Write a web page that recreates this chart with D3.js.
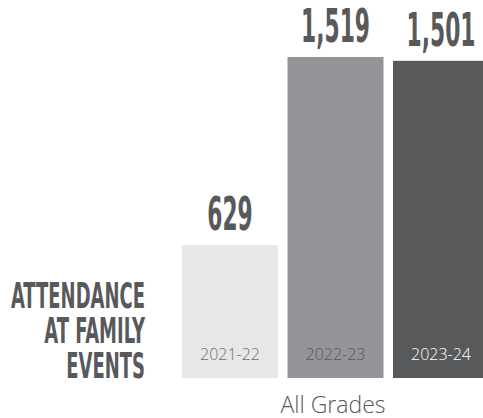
<html lang="en">
<head>
    <meta charset="UTF-8">
    <title>Attendance at Family Events</title>
    <script src="https://cdn.jsdelivr.net/npm/d3@7"></script>
    <style>
        body { margin: 0; background: #fff; }
    </style>
</head>
<body>
    <svg id="svg"></svg>

    <script>
        var WIDTH = 483;
        var HEIGHT = 418;

        // data
        var years = ["2021-22", "2022-23", "2023-24"];
        var attendance = [629, 1519, 1501];
        var titleLines = ["ATTENDANCE", "AT FAMILY", "EVENTS"];
        var groupLabel = "All Grades";

        var barColors = ["#e6e7e8", "#939598", "#58595b"];
        var yearColors = ["#6d6e71", "#58595b", "#ffffff"];
        var INK = "#58595b";
        var NARROW = "'DejaVu Sans Condensed', 'DejaVu Sans', sans-serif";
        var LIGHT = "'Open Sans', 'Noto Sans', sans-serif";

        var svg = d3.select("#svg")
                    .attr("width", WIDTH)
                    .attr("height", HEIGHT);

        var xScale = d3.scaleBand()
                       .domain(years)
                       .range([182, 182 + 3 * 105.5 - 9.5])
                       .paddingInner(0.09);

        var yScale = d3.scaleLinear()
                       .domain([0, 1519])
                       .range([378, 57]);

        var data = years.map(function(y, i){
            return { year: y, value: attendance[i], i: i };
        });

        svg.selectAll("rect.bar")
           .data(data)
           .enter()
           .append("rect")
           .attr("class", "bar")
           .attr("x", function(d){ return xScale(d.year); })
           .attr("y", function(d){ return yScale(d.value); })
           .attr("width", xScale.bandwidth())
           .attr("height", function(d){ return yScale(0) - yScale(d.value); })
           .attr("fill", function(d){ return barColors[d.i]; });

        // squeeze a condensed font further so "1,519" is ~69px wide
        var probe = svg.append("text")
                       .attr("font-family", NARROW)
                       .attr("font-weight", "bold")
                       .attr("font-size", 46)
                       .text("1,519");
        var valueSx = 69 / probe.node().getComputedTextLength();
        probe.attr("font-size", 36).text("ATTENDANCE");
        var titleSx = 134 / probe.node().getComputedTextLength();
        probe.remove();

        // big numbers over the bars
        svg.selectAll("text.value")
           .data(data)
           .enter()
           .append("text")
           .attr("class", "value")
           .attr("transform", function(d){
               var cx = xScale(d.year) + xScale.bandwidth() / 2;
               return "translate(" + cx + "," + (yScale(d.value) - 15) + ") scale(" + valueSx + ",1)";
           })
           .attr("text-anchor", "middle")
           .attr("font-family", NARROW)
           .attr("font-weight", "bold")
           .attr("font-size", 46)
           .attr("fill", INK)
           .text(function(d){ return d3.format(",")(d.value); });

        // year labels inside bars
        svg.selectAll("text.year")
           .data(data)
           .enter()
           .append("text")
           .attr("class", "year")
           .attr("x", function(d){ return xScale(d.year) + xScale.bandwidth() / 2; })
           .attr("y", 360)
           .attr("text-anchor", "middle")
           .attr("font-family", LIGHT)
           .attr("font-weight", 300)
           .attr("font-size", 16)
           .attr("fill", function(d){ return yearColors[d.i]; })
           .text(function(d){ return d.year; });

        // group label under the bars
        svg.append("text")
           .attr("x", 333)
           .attr("y", 413)
           .attr("text-anchor", "middle")
           .attr("font-family", LIGHT)
           .attr("font-weight", 300)
           .attr("font-size", 23)
           .attr("fill", INK)
           .text(groupLabel);

        // title on the left
        svg.selectAll("text.title")
           .data(titleLines)
           .enter()
           .append("text")
           .attr("class", "title")
           .attr("transform", function(d, i){
               return "translate(145," + (308 + i * 35) + ") scale(" + titleSx + ",1)";
           })
           .attr("text-anchor", "end")
           .attr("font-family", NARROW)
           .attr("font-weight", "bold")
           .attr("font-size", 36)
           .attr("fill", INK)
           .text(function(d){ return d; });
    </script>
</body>
</html>
